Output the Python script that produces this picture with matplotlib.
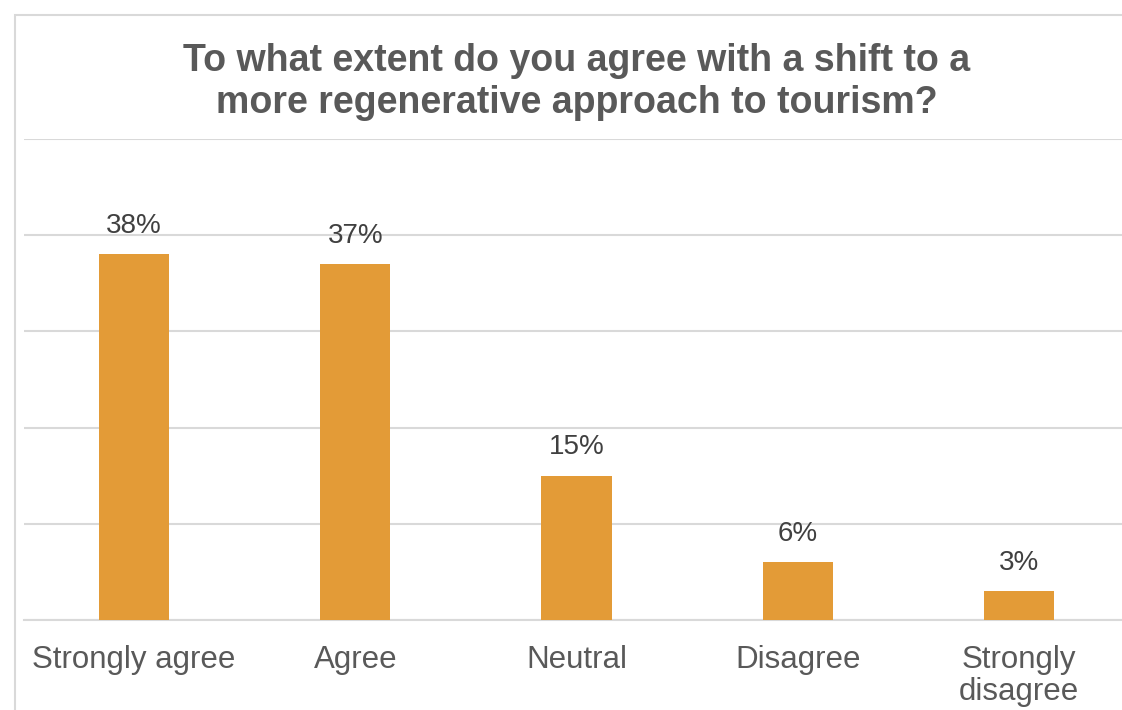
import matplotlib
matplotlib.use("Agg")
import matplotlib.pyplot as plt
from matplotlib.patches import Rectangle

# survey responses
categories = ["Strongly agree", "Agree", "Neutral", "Disagree", "Strongly\ndisagree"]
shares = [38, 37, 15, 6, 3]
title = "To what extent do you agree with a shift to a\nmore regenerative approach to tourism?"

bar_color = "#E39B37"
text_color = "#595959"
grid_color = "#D9D9D9"

plt.rcParams["font.family"] = ["Liberation Sans", "DejaVu Sans"]

fig = plt.figure(figsize=(11.22, 7.10), dpi=100)
W, H = 1122, 710

# outer chart frame (right edge runs past the canvas)
fig.patches.append(Rectangle((14.5 / W, -0.2), 1.5, (H - 15) / H + 0.2,
                             transform=fig.transFigure, fill=False,
                             edgecolor=grid_color, linewidth=1.5))

ax = fig.add_axes([23.5 / W, (H - 620) / H, 1106 / W, 481 / H])
x = range(len(categories))
bars = ax.bar(x, shares, width=0.317, color=bar_color, zorder=3)

ax.set_xlim(-0.5, len(categories) - 0.5)
ax.set_ylim(0, 50)
ax.set_yticks(range(0, 51, 10))
ax.yaxis.grid(True, color=grid_color, linewidth=1.5, zorder=0)
ax.tick_params(axis="y", left=False, labelleft=False)
ax.set_xticks(list(x))
ax.set_xticklabels(categories, fontsize=22.5, color=text_color, linespacing=1.1)
ax.tick_params(axis="x", length=0, pad=18)
for side in ["left", "right", "top"]:
    ax.spines[side].set_visible(False)
ax.spines["bottom"].set_color(grid_color)
ax.spines["bottom"].set_linewidth(1.5)

for b, v in zip(bars, shares):
    ax.annotate(f"{v}%", (b.get_x() + b.get_width() / 2, v),
                xytext=(0, 11), textcoords="offset points",
                ha="center", va="bottom", fontsize=20, color="#404040")

fig.text(577 / W, (H - 82) / H, title, ha="center", va="center",
         fontsize=27, fontweight="bold", color=text_color, linespacing=1.22)

fig.savefig("out.png", dpi=100)
